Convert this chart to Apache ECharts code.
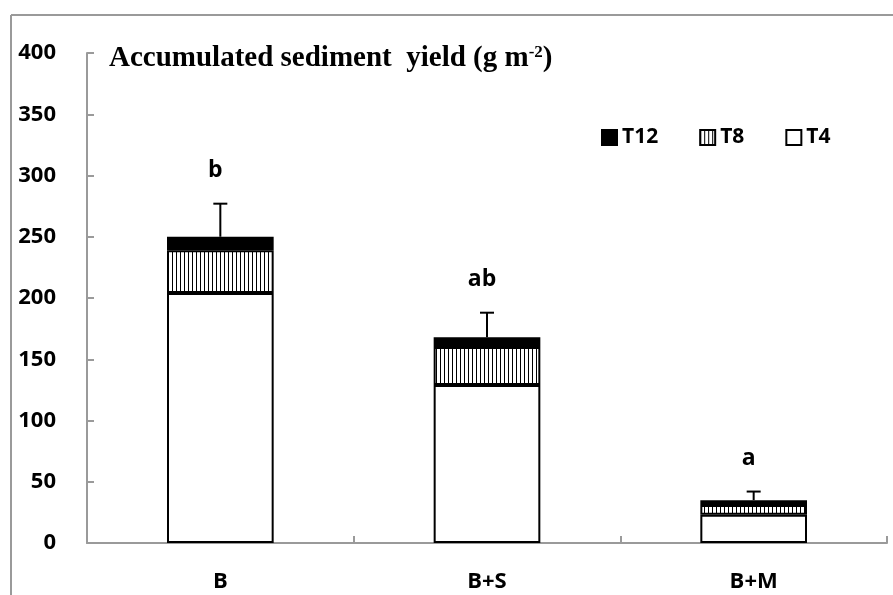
<!DOCTYPE html>
<html>
<head>
<meta charset="utf-8">
<script src="https://cdn.jsdelivr.net/npm/echarts@6/dist/echarts.min.js"></script>
<style>
  html, body { margin: 0; padding: 0; background: #fff; }
  #chart { width: 893px; height: 595px; }
</style>
</head>
<body>
<div id="chart"></div>
<script>
// Treatments and accumulated sediment yield per sampling time (g m-2)
const categories = ['B', 'B+S', 'B+M'];
const t4Values = [204, 129, 23];
const t8Values = [35, 31, 8];
const t12Values = [11, 8, 4];
const errorValues = [27, 20, 7];
const sigLetters = ['b', 'ab', 'a'];
const yTicks = [0, 50, 100, 150, 200, 250, 300, 350, 400];

const totals = categories.map((_, i) => t4Values[i] + t8Values[i] + t12Values[i]);

// vertical-stripe fill for the T8 segment
function stripePattern() {
  const c = document.createElement('canvas');
  c.width = 4; c.height = 4;
  const ctx = c.getContext('2d');
  ctx.fillStyle = '#ffffff';
  ctx.fillRect(0, 0, 4, 4);
  ctx.fillStyle = '#000000';
  ctx.fillRect(0, 0, 1, 4);
  return c;
}
const stripes = { image: stripePattern(), repeat: 'repeat' };

const labelFont = { fontFamily: 'Open Sans', fontWeight: 'bold', fontSize: 22, color: '#000' };
const axisGray = '#9a9a9a';

const chart = echarts.init(document.getElementById('chart'), null, { renderer: 'canvas' });

const barBase = {
  type: 'bar',
  stack: 'total',
  barWidth: '40%',
  emphasis: { disabled: true }
};

chart.setOption({
  animation: false,
  backgroundColor: '#fff',
  title: {
    left: 104,
    top: 39,
    text: '{a|Accumulated sediment  yield (g m}{s|-2}{a|)}',
    textStyle: {
      rich: {
        a: { fontFamily: 'Liberation Serif', fontWeight: 'bold', fontSize: 29, color: '#000' },
        s: { fontFamily: 'Liberation Serif', fontWeight: 'bold', fontSize: 17, color: '#000', verticalAlign: 'top', padding: [0, 0, 10, 0] }
      }
    }
  },
  legend: {
    left: 596,
    top: 122,
    itemWidth: 15,
    itemHeight: 15,
    itemGap: 41,
    icon: 'rect',
    data: ['T12', 'T8', 'T4'],
    textStyle: Object.assign({}, labelFont, { fontSize: 21, padding: [0, 0, 0, 0] })
  },
  grid: { left: 87, right: 6, top: 53, bottom: 52, containLabel: false },
  xAxis: {
    type: 'category',
    data: categories,
    boundaryGap: true,
    axisLine: { lineStyle: { color: axisGray, width: 2 } },
    axisTick: { show: true, inside: true, length: 7, lineStyle: { color: axisGray, width: 2 } },
    axisLabel: Object.assign({}, labelFont, { margin: 28 }),
    splitLine: { show: false }
  },
  yAxis: {
    type: 'value',
    min: yTicks[0],
    max: yTicks[yTicks.length - 1],
    interval: yTicks[1] - yTicks[0],
    axisLine: { show: true, lineStyle: { color: axisGray, width: 2 } },
    axisTick: { show: true, inside: true, length: 7, lineStyle: { color: axisGray, width: 2 } },
    axisLabel: Object.assign({}, labelFont, { margin: 31 }),
    splitLine: { show: false }
  },
  graphic: [
    { type: 'line', shape: { x1: 11, y1: 15, x2: 11, y2: 595 }, style: { stroke: axisGray, lineWidth: 2 } },
    { type: 'line', shape: { x1: 11, y1: 15, x2: 893, y2: 15 }, style: { stroke: axisGray, lineWidth: 2 } }
  ],
  series: [
    Object.assign({}, barBase, { name: 'T4', data: t4Values, itemStyle: { color: '#fff', borderColor: '#000', borderWidth: 2 } }),
    Object.assign({}, barBase, { name: 'T8', data: t8Values, itemStyle: { color: stripes, borderColor: '#000', borderWidth: 2 } }),
    Object.assign({}, barBase, { name: 'T12', data: t12Values, itemStyle: { color: '#000', borderColor: '#000', borderWidth: 2 } }),
    {
      // error bars with significance letters above them
      type: 'custom',
      name: 'error',
      silent: true,
      z: 5,
      data: categories.map((_, i) => [i, totals[i], errorValues[i]]),
      renderItem: function (params, api) {
        const i = api.value(0);
        const base = api.coord([i, api.value(1)]);
        const top = api.coord([i, api.value(1) + api.value(2)]);
        const cap = 7;
        return {
          type: 'group',
          children: [
            { type: 'line', shape: { x1: base[0], y1: base[1], x2: top[0], y2: top[1] }, style: { stroke: '#000', lineWidth: 2 } },
            { type: 'line', shape: { x1: top[0] - cap, y1: top[1], x2: top[0] + cap, y2: top[1] }, style: { stroke: '#000', lineWidth: 2 } },
            {
              type: 'text',
              x: top[0] - 5,
              y: top[1] - 33,
              style: {
                text: sigLetters[params.dataIndex],
                fill: '#000',
                font: 'bold 23px "Open Sans"',
                align: 'center',
                verticalAlign: 'middle'
              }
            }
          ]
        };
      }
    }
  ]
});
</script>
</body>
</html>
